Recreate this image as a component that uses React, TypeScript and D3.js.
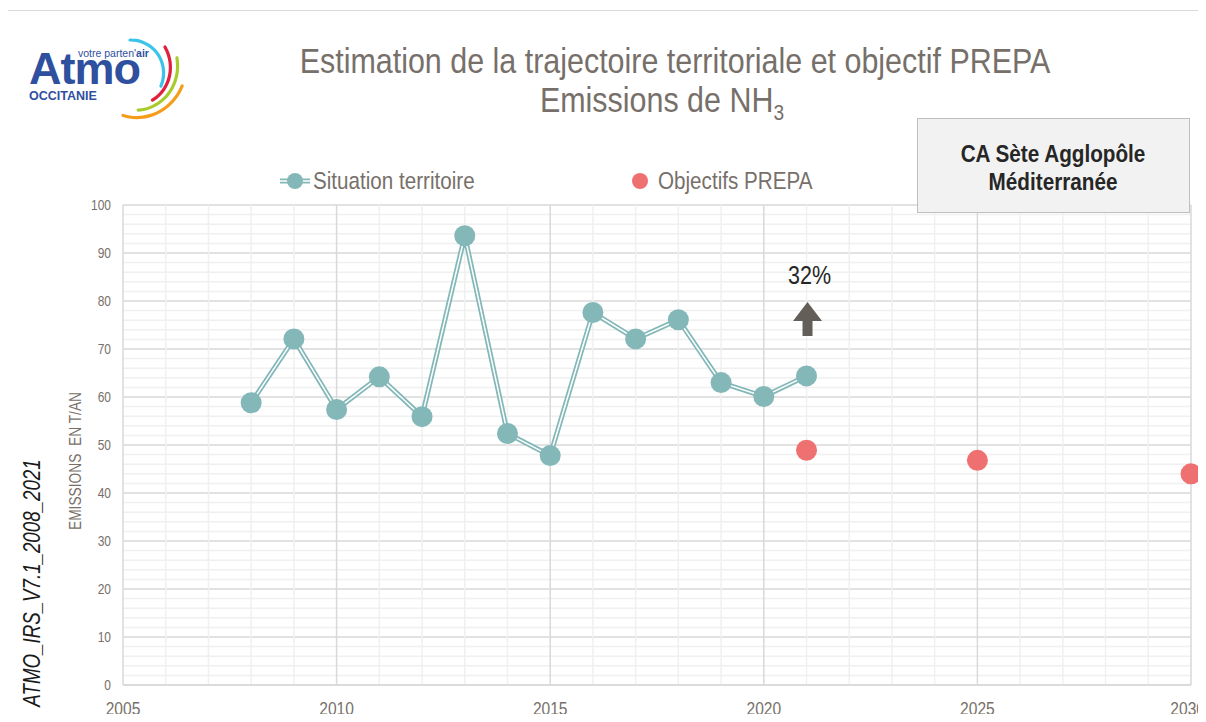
import * as d3 from 'd3'
import { useRef, useEffect } from 'react'

const years = [2008, 2009, 2010, 2011, 2012, 2013, 2014, 2015, 2016, 2017, 2018, 2019, 2020, 2021]
const emissions = [58.8, 72.1, 57.4, 64.2, 55.9, 93.6, 52.4, 47.8, 77.6, 72.1, 76.1, 63.0, 60.1, 64.4]
const objectiveYears = [2021, 2025, 2030]
const objectives = [48.9, 46.8, 44.0]
const xTicks = [2005, 2010, 2015, 2020, 2025, 2030]
const yTicks = [0, 10, 20, 30, 40, 50, 60, 70, 80, 90, 100]

const FONT = '"Liberation Sans", Arial, sans-serif'
const GREY = '#77706A'
const TEAL = '#84B8B8'
const RED = '#EF7070'

// no narrow font installed, so squeeze Liberation Sans horizontally
const narrowText = (parent, x, y, size, sx, txt, anchor = 'start') =>
  parent
    .append('text')
    .attr('transform', `translate(${x},${y}) scale(${sx},1)`)
    .attr('text-anchor', anchor)
    .attr('font-family', FONT)
    .attr('font-size', size)
    .attr('fill', GREY)
    .text(txt)

const App = () => {
  const ref = useRef()

  useEffect(() => {
    draw()
  }, [])

  const draw = () => {
    const svg = d3.select(ref.current)
    svg.selectAll('*').remove()

    const W = 1206
    const H = 722
    const m = { left: 123, right: 1191, top: 205, bottom: 685 }

    svg.append('rect').attr('width', W).attr('height', H).attr('fill', '#fff')
    svg
      .append('rect')
      .attr('x', 7.5)
      .attr('y', 10.5)
      .attr('width', W - 10)
      .attr('height', H)
      .attr('fill', 'none')
      .attr('stroke', '#D9D9D9')

    const x = d3.scaleLinear().domain([2005, 2030]).range([m.left, m.right])
    const y = d3.scaleLinear().domain([0, 100]).range([m.bottom, m.top])

    // grid
    const grid = svg.append('g')
    grid
      .selectAll('line.h')
      .data(d3.range(0, 101, 2))
      .enter()
      .append('line')
      .attr('x1', m.left)
      .attr('x2', m.right)
      .attr('y1', (d) => y(d))
      .attr('y2', (d) => y(d))
      .attr('stroke', (d) => (d % 10 === 0 ? '#D9D9D9' : '#F0F0F0'))
      .attr('stroke-width', 1.5)
    grid
      .selectAll('line.v')
      .data(d3.range(2005, 2031))
      .enter()
      .append('line')
      .attr('y1', m.top)
      .attr('y2', m.bottom)
      .attr('x1', (d) => x(d))
      .attr('x2', (d) => x(d))
      .attr('stroke', (d) => (d % 5 === 0 ? '#D9D9D9' : '#F0F0F0'))
      .attr('stroke-width', 1.5)
    grid
      .append('line')
      .attr('x1', m.left)
      .attr('x2', m.right)
      .attr('y1', m.bottom)
      .attr('y2', m.bottom)
      .attr('stroke', '#D9D9D9')
      .attr('stroke-width', 1.5)

    // axis labels
    const yl = svg.append('g')
    yTicks.forEach((t) => narrowText(yl, m.left - 12, y(t) + 5, 15, 0.8, t, 'end'))
    const xl = svg.append('g')
    xTicks.forEach((t) => {
      // last label would run past the right edge, so pin it to the edge
      if (x(t) + 17 > W) narrowText(xl, W - 1, 715, 19, 0.82, t, 'end')
      else narrowText(xl, x(t), 715, 19, 0.82, t, 'middle')
    })

    narrowText(svg, 0, 0, 16, 0.86, 'EMISSIONS  EN T/AN', 'middle')
      .attr('transform', 'translate(81,461) rotate(-90) scale(0.86,1)')
      .attr('xml:space', 'preserve')

    narrowText(svg, 0, 0, 24, 0.78, 'ATMO_IRS_V7.1_2008_2021', 'middle')
      .attr('transform', 'translate(40,583) rotate(-90) scale(0.78,1)')
      .attr('font-style', 'italic')
      .attr('fill', '#1a1a1a')

    // series line (double line look)
    const line = d3
      .line()
      .x((d) => x(d[0]))
      .y((d) => y(d[1]))
    const pts = years.map((yr, i) => [yr, emissions[i]])
    svg.append('path').attr('d', line(pts)).attr('fill', 'none').attr('stroke', TEAL).attr('stroke-width', 5)
    svg.append('path').attr('d', line(pts)).attr('fill', 'none').attr('stroke', '#fff').attr('stroke-width', 1.5)
    svg
      .append('g')
      .selectAll('circle')
      .data(pts)
      .enter()
      .append('circle')
      .attr('cx', (d) => x(d[0]))
      .attr('cy', (d) => y(d[1]))
      .attr('r', 10.5)
      .attr('fill', TEAL)

    svg
      .append('g')
      .selectAll('circle')
      .data(objectiveYears.map((yr, i) => [yr, objectives[i]]))
      .enter()
      .append('circle')
      .attr('cx', (d) => x(d[0]))
      .attr('cy', (d) => y(d[1]))
      .attr('r', 10.5)
      .attr('fill', RED)

    // 32% annotation
    const ax = x(2021) + 1
    narrowText(svg, ax + 2, 284, 25, 0.86, '32%', 'middle').attr('fill', '#262626')
    svg
      .append('path')
      .attr(
        'd',
        `M${ax},302 L${ax + 14.5},${321} L${ax + 5},${321} L${ax + 5},336 L${ax - 5},336 L${ax - 5},${321} L${ax - 14.5},${321} Z`
      )
      .attr('fill', '#635E58')

    // title
    narrowText(svg, 675, 73, 35, 0.87, 'Estimation de la trajectoire territoriale et objectif PREPA', 'middle')
    const t2 = narrowText(svg, 662, 112, 35, 0.87, 'Emissions de NH', 'middle')
    t2.append('tspan').attr('font-size', 22).attr('dy', 8).text('3')

    // legend
    const lg = svg.append('g')
    lg.append('line').attr('x1', 280).attr('x2', 310).attr('y1', 181).attr('y2', 181).attr('stroke', TEAL).attr('stroke-width', 5)
    lg.append('line').attr('x1', 280).attr('x2', 310).attr('y1', 181).attr('y2', 181).attr('stroke', '#fff').attr('stroke-width', 1.5)
    lg.append('circle').attr('cx', 295).attr('cy', 181).attr('r', 8).attr('fill', TEAL)
    narrowText(lg, 313, 189, 24, 0.86, 'Situation territoire')
    lg.append('circle').attr('cx', 640).attr('cy', 181).attr('r', 8).attr('fill', RED)
    narrowText(lg, 658, 189, 24, 0.86, 'Objectifs PREPA')

    // territory box
    svg
      .append('rect')
      .attr('x', 917.5)
      .attr('y', 118.5)
      .attr('width', 272)
      .attr('height', 94)
      .attr('fill', '#F2F2F2')
      .attr('stroke', '#BFBFBF')
    narrowText(svg, 1053, 162, 23, 0.9, 'CA Sète Agglopôle', 'middle').attr('font-weight', 'bold').attr('fill', '#262626')
    narrowText(svg, 1053, 190, 23, 0.9, 'Méditerranée', 'middle').attr('font-weight', 'bold').attr('fill', '#262626')

    // logo
    const logo = svg.append('g')
    logo
      .append('text')
      .attr('x', 29)
      .attr('y', 84)
      .attr('font-family', FONT)
      .attr('font-weight', 'bold')
      .attr('font-size', 45)
      .attr('letter-spacing', -1)
      .attr('fill', '#2F4F9F')
      .text('Atmo')
    const tag = logo
      .append('text')
      .attr('x', 78)
      .attr('y', 57)
      .attr('font-family', FONT)
      .attr('font-size', 10.5)
      .attr('fill', '#2F4F9F')
    tag.append('tspan').text("votre parten'")
    tag.append('tspan').attr('font-weight', 'bold').text('air')
    logo
      .append('text')
      .attr('x', 29)
      .attr('y', 100)
      .attr('font-family', FONT)
      .attr('font-weight', 'bold')
      .attr('font-size', 12.5)
      .attr('fill', '#2F4F9F')
      .text('OCCITANIE')
    const arcs = [
      { r0: 32, r1: 34, a0: 0.0, a1: 2.0, c: '#3CC3EA' },
      { r0: 43, r1: 36, a0: 0.95, a1: 2.47, c: '#E0203C' },
      { r0: 49, r1: 39, a0: 1.28, a1: 2.93, c: '#A8CB2C' },
      { r0: 54, r1: 44, a0: 1.83, a1: 3.3, c: '#F59C1A' }
    ]
    const spiral = d3
      .lineRadial()
      .angle((d) => d[0])
      .radius((d) => d[1])
      .curve(d3.curveCatmullRom)
    logo
      .selectAll('path')
      .data(arcs)
      .enter()
      .append('path')
      .attr('transform', 'translate(130,72)')
      .attr('d', (d) =>
        spiral(d3.range(0, 1.0001, 0.1).map((t) => [d.a0 + (d.a1 - d.a0) * t, d.r0 + (d.r1 - d.r0) * t]))
      )
      .attr('fill', 'none')
      .attr('stroke', (d) => d.c)
      .attr('stroke-width', 3.2)
      .attr('stroke-linecap', 'round')
  }

  return (
    <div style={{ margin: -8, width: 1206, height: 722, overflow: 'hidden' }}>
      <svg ref={ref} width={1206} height={722} style={{ display: 'block' }}></svg>
    </div>
  )
}

export default App
